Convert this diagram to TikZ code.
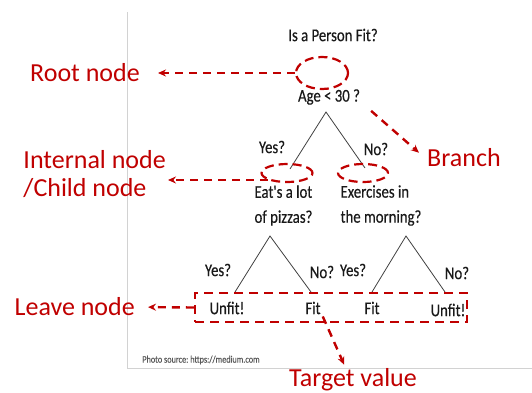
\documentclass[tikz,border=0pt]{standalone}
\usepackage{fontspec}
\setmainfont{Carlito}
\newfontfamily\treefont[FakeStretch=0.82,FakeBold=0.4]{Carlito}
\usetikzlibrary{arrows.meta,shapes.geometric}
\definecolor{tagred}{RGB}{192,0,0}

\begin{document}
\begin{tikzpicture}[x=1pt,y=-1pt]
\useasboundingbox (0,0) rectangle (532,392);

%thin grey frame round the tree
\draw[gray!35, line width=0.8pt] (127,12) -- (127,368) -- (532,368);

%the questions, answers and leaves of the tree
\begin{scope}[every node/.style={font=\treefont\fontsize{18}{25}\selectfont,text=black!90,inner sep=2pt}]
    \node (title) at (333,35) {Is a Person Fit?};
    \node (age) at (329,97) {Age < 30 ?};
    \node[align=left] (pizza) at (283.5,205.5) {Eat's a lot\\of pizzas?};
    \node[align=left] (exercise) at (381,205.5) {Exercises in\\the morning?};

    \node (yes1) at (272,147) {Yes?};
    \node (no1) at (376,149) {No?};
    \node (yes2) at (218,270) {Yes?};
    \node (no2) at (322,272) {No?};
    \node (yes3) at (353,270) {Yes?};
    \node (no3) at (457,273) {No?};

    \node (unfit1) at (227,308) {Unfit!};
    \node (fit1) at (313,308) {Fit};
    \node (fit2) at (372,308) {Fit};
    \node (unfit2) at (448,310) {Unfit!};

    \node[font=\treefont\fontsize{10}{12}\selectfont,text=black!65] (credit) at (201,360) {Photo source:\ https://medium.com};
\end{scope}

%forks and leg ends of the branches
\coordinate (ageFork) at (326,112);
\coordinate (ageYes) at (290,169);
\coordinate (ageNo) at (365,168);
\coordinate (pizzaFork) at (270,236);
\coordinate (pizzaYes) at (235,292);
\coordinate (pizzaNo) at (311,292);
\coordinate (exerFork) at (406,236);
\coordinate (exerYes) at (372,292);
\coordinate (exerNo) at (445,292);

\begin{scope}[every path/.style={draw=black!75,line width=0.8pt}]
    \draw (ageYes) -- (ageFork) -- (ageNo);
    \draw (pizzaYes) -- (pizzaFork) -- (pizzaNo);
    \draw (exerYes) -- (exerFork) -- (exerNo);
\end{scope}

%red dashed rings, box and arrows with their names
\begin{scope}[>={Stealth[length=8pt,width=7pt]},
              every node/.style={font=\fontsize{26}{28}\selectfont,text=tagred,inner sep=2pt},
              ring/.style={ellipse,draw=tagred,line width=2.2pt,dash pattern=on 9pt off 5pt,inner sep=0pt},
              pointer/.style={->,draw=tagred,line width=2.4pt,dash pattern=on 8pt off 6pt}]

    \node[ring,minimum width=52pt,minimum height=32pt] (rootRing) at (322,73) {};
    \node[ring,minimum width=51pt,minimum height=18pt] (yesRing) at (287,173) {};
    \node[ring,minimum width=50pt,minimum height=18pt] (noRing) at (363,173) {};
    \node[draw=tagred,line width=2.4pt,dash pattern=on 9pt off 6pt,
          minimum width=272pt,minimum height=29pt] (leafBox) at (331,307.5) {};

    \node[anchor=east] (rootLbl) at (142,73) {Root node};
    \node[anchor=east,align=left] (intLbl) at (168,174) {Internal node\\/Child node};
    \node[anchor=west] (branchLbl) at (425,158) {Branch};
    \node[anchor=east] (leafLbl) at (137,307) {Leave node};
    \node (targetLbl) at (353,380) {Target value};

    \draw[pointer,shorten >=16pt] (rootRing.west) -- (rootLbl.east);
    \draw[pointer] (yesRing.200) -- (intLbl.east |- yesRing.200);
    \draw[pointer,shorten >=8pt] ([xshift=9pt,yshift=-4pt]age.south east) -- (branchLbl.west);
    \draw[pointer,shorten >=11pt] (leafBox.west) -- (leafLbl.east);
    \draw[pointer,shorten >=2pt] (fit1.south east) -- ([xshift=-8pt]targetLbl.north);
\end{scope}
\end{tikzpicture}
\end{document}
